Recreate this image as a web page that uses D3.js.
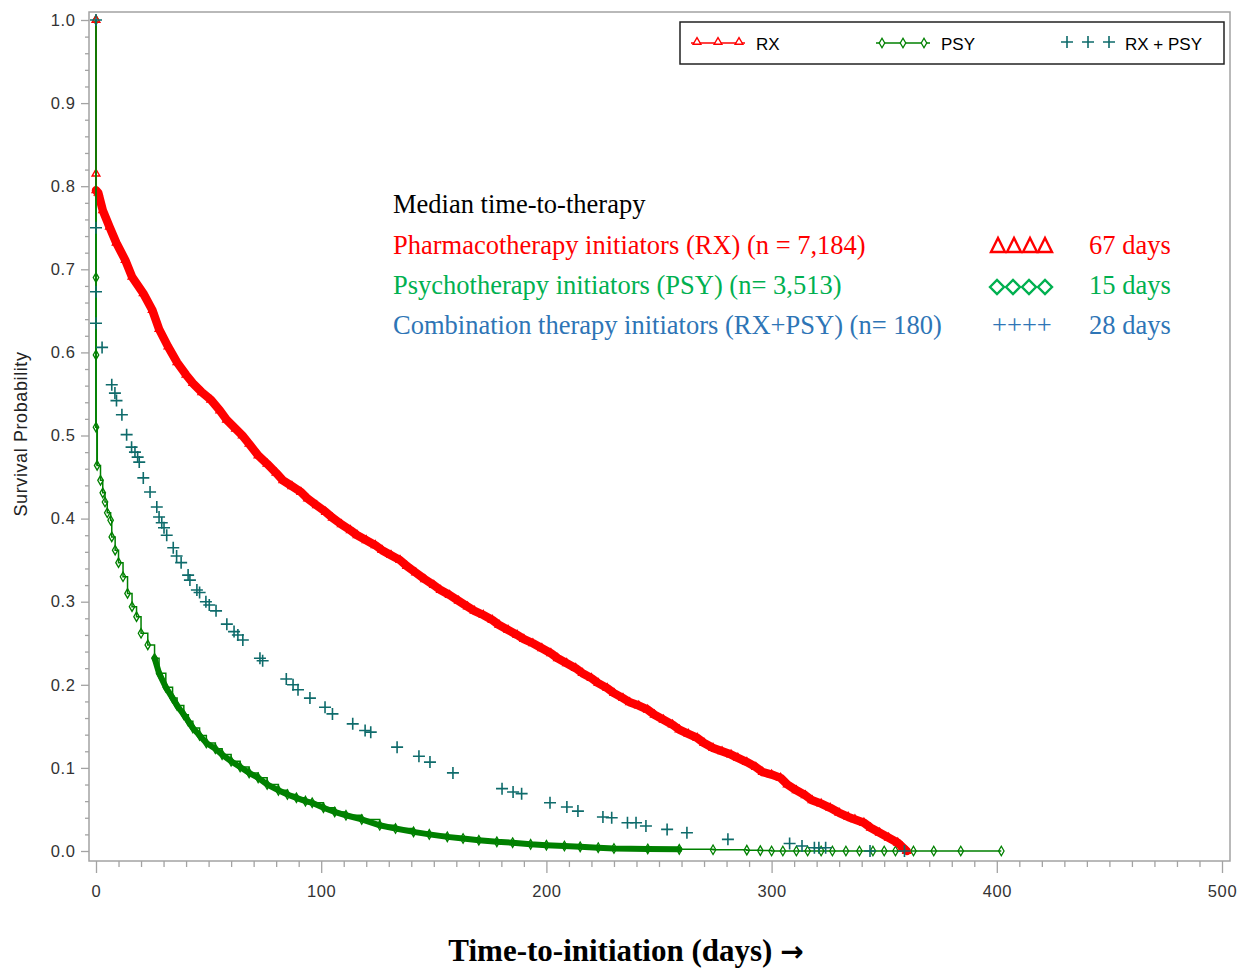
<!DOCTYPE html>
<html><head><meta charset="utf-8">
<script src="https://cdn.jsdelivr.net/npm/d3@7"></script>
<style>body{margin:0;background:#fff}</style>
</head><body>
<svg id="chart" width="1248" height="971"></svg>
<script>
// ---- data: [time (days), survival probability]
const rxSeries = [[0,1.0],[0,0.815],[0,0.795],[1,0.792],[3,0.771],[6,0.751],[9,0.732],[13,0.711],[16,0.691],[21,0.671],[25,0.651],[28,0.628],[32,0.607],[36,0.588],[40,0.573],[43,0.563],[47,0.552],[51,0.543],[55,0.530],[58,0.519],[62,0.508],[65,0.500],[68,0.490],[72,0.476],[76,0.466],[80,0.455],[83,0.446],[87,0.439],[91,0.432],[94,0.424],[98,0.416],[102,0.408],[105,0.401],[109,0.393],[113,0.386],[116,0.380],[120,0.374],[124,0.368],[127,0.362],[131,0.356],[135,0.350],[138,0.343],[142,0.335],[146,0.327],[150,0.320],[153,0.314],[157,0.308],[161,0.301],[165,0.294],[168,0.289],[172,0.284],[176,0.278],[179,0.272],[183,0.266],[187,0.260],[190,0.255],[194,0.250],[198,0.244],[202,0.238],[205,0.232],[209,0.226],[213,0.220],[216,0.214],[220,0.208],[223,0.202],[227,0.196],[230,0.190],[234,0.184],[237,0.179],[241,0.175],[245,0.170],[248,0.164],[252,0.158],[256,0.152],[259,0.146],[263,0.141],[267,0.136],[270,0.130],[274,0.124],[278,0.120],[282,0.116],[285,0.112],[289,0.107],[293,0.101],[296,0.095],[300,0.092],[304,0.088],[307,0.080],[311,0.073],[315,0.067],[318,0.061],[322,0.057],[326,0.052],[330,0.046],[334,0.041],[337,0.038],[341,0.034],[344,0.028],[348,0.022],[352,0.016],[356,0.010],[358,0.005],[360,0.0]];

const psySeries = [[0,1.0],[0,0.69],[0,0.597],[0,0.51],[0.5,0.464],[2,0.446],[3,0.431],[4,0.420],[5,0.407],[6.5,0.398],[7,0.378],[8.5,0.362],[10,0.347],[12,0.330],[14,0.310],[16,0.294],[18,0.282],[20,0.262],[23,0.248],[26,0.232],[28,0.214],[31,0.197],[34,0.184],[36,0.175],[39,0.164],[41,0.156],[43,0.148],[46,0.139],[49,0.130],[53,0.123],[56,0.116],[60,0.108],[64,0.101],[68,0.094],[72,0.088],[76,0.080],[81,0.073],[85,0.068],[89,0.064],[93,0.060],[96,0.058],[101,0.052],[106,0.047],[111,0.043],[118,0.038],[126,0.031],[133,0.027],[141,0.023],[148,0.020],[156,0.017],[163,0.015],[170,0.013],[178,0.011],[185,0.010],[193,0.008],[200,0.007],[208,0.006],[215,0.005],[223,0.004],[230,0.003],[245,0.0025],[259,0.002],[274,0.0015],[289,0.001],[295,0.0005],[300,0.0],[305,0.0],[311,0.0],[316,0.0],[322,0.0],[327,0.0],[333,0.0],[339,0.0],[345,0.0],[350,0.0],[355,0.0],[363,0.0],[372,0.0],[384,0.0],[402,0.0]];

const comboSeries = [[0,1.0],[0,0.75],[0,0.673],[0,0.635],[2.7,0.606],[7,0.561],[8.4,0.551],[9.1,0.542],[11.5,0.525],[13.6,0.501],[15.8,0.486],[17.3,0.480],[18.5,0.474],[19.2,0.468],[21,0.449],[24,0.432],[27,0.414],[28,0.402],[29.2,0.395],[30.2,0.389],[31.4,0.380],[34.3,0.365],[35.8,0.355],[37.8,0.347],[40.9,0.332],[41.7,0.326],[44.8,0.314],[46,0.311],[48.8,0.300],[50.3,0.296],[53.3,0.289],[58.1,0.273],[61.3,0.264],[63,0.260],[65.2,0.254],[72.8,0.232],[74,0.229],[84.5,0.207],[87.5,0.200],[89.7,0.194],[95,0.184],[101.7,0.173],[105,0.165],[114,0.153],[119.5,0.145],[122,0.143],[133.7,0.125],[143.4,0.114],[148.3,0.107],[158.5,0.094],[180.3,0.075],[185.2,0.071],[189,0.069],[201.6,0.058],[209.1,0.053],[214,0.048],[225.1,0.041],[229,0.040],[236,0.034],[239.8,0.034],[244.2,0.030],[253.6,0.026],[262.4,0.022],[280.6,0.014],[308,0.009],[313.5,0.006],[319,0.004],[321,0.004],[324,0.004],[343.7,0.0],[359,0.0]];

const xTicks = [0,100,200,300,400,500];
const yTicks = [0.0,0.1,0.2,0.3,0.4,0.5,0.6,0.7,0.8,0.9,1.0];
const legendLabels = ["RX","PSY","RX + PSY"];
const noteTitle = "Median time-to-therapy";
const noteLines = ["Pharmacotherapy initiators (RX) (n = 7,184)","Psychotherapy initiators (PSY) (n= 3,513)","Combination therapy initiators (RX+PSY) (n= 180)"];
const noteMedians = ["67 days","15 days","28 days"];

// ---- drawing
const svg = d3.select("#chart");
const frame = {l:89, t:12, r:1230, b:861};
const x = d3.scaleLinear().domain([0,500]).range([96,1222]);
const y = d3.scaleLinear().domain([0,1]).range([851,20]);

const RED="#ff0000", GREEN="#008000", TEAL="#0e6b6b", GREY="#a3a3a3";

// frame
svg.append("rect").attr("x",frame.l).attr("y",frame.t).attr("width",frame.r-frame.l).attr("height",frame.b-frame.t)
  .attr("fill","none").attr("stroke",GREY).attr("stroke-width",1.5);

// x axis
const xAxis = d3.axisBottom(x).tickValues(xTicks).tickSize(12).tickFormat(d3.format("d"));
const gx = svg.append("g").attr("transform",`translate(0,${frame.b})`).call(xAxis);
const xMinor = d3.range(0,501,10).filter(v=>v%100!==0);
svg.append("g").attr("transform",`translate(0,${frame.b})`)
  .call(d3.axisBottom(x).tickValues(xMinor).tickSize(6).tickFormat(""));
// y axis
const gy = svg.append("g").attr("transform",`translate(${frame.l},0)`)
  .call(d3.axisLeft(y).tickValues(yTicks).tickSize(8).tickFormat(d3.format(".1f")));
const yMinor = d3.range(0,51).map(i=>i/50).filter((v,i)=>i%5!==0);
svg.append("g").attr("transform",`translate(${frame.l},0)`)
  .call(d3.axisLeft(y).tickValues(yMinor).tickSize(4).tickFormat(""));
svg.selectAll(".domain").remove();
svg.selectAll(".tick line").attr("stroke",GREY).attr("stroke-width",1.3);
svg.selectAll(".tick text").attr("font-family","Liberation Sans, Arial, sans-serif").attr("font-size",16.5).attr("fill","#333").attr("letter-spacing",0.6);
gx.selectAll(".tick text").attr("dy","1.3em");
gy.selectAll(".tick text").attr("dx","-0.15em");

// axis titles
svg.append("text").attr("transform","translate(27,434) rotate(-90)").attr("text-anchor","middle")
  .attr("font-family","Liberation Sans, Arial, sans-serif").attr("font-size",18).attr("letter-spacing",0.6).attr("fill","#222")
  .text("Survival Probability");
const xt = svg.append("text").attr("x",626).attr("y",961).attr("text-anchor","middle")
  .attr("font-family","Liberation Serif, Times New Roman, serif").attr("font-size",31).attr("font-weight","bold");
xt.append("tspan").text("Time-to-initiation (days) ");
xt.append("tspan").attr("font-family","DejaVu Sans, sans-serif").attr("font-size",28).text("\u2192");

const line = d3.line().x(d=>x(d[0])).y(d=>y(d[1]));
const stepLine = d3.line().x(d=>x(d[0])).y(d=>y(d[1])).curve(d3.curveStepAfter);
const triSym = d3.symbol().type(d3.symbolTriangle).size(26);
const diaSym = d3.symbol().type(d3.symbolDiamond).size(26);
const plusPath = "M-6,0H6M0,-6V6";

// PSY: line + dense band + diamonds
svg.append("path").datum(psySeries).attr("d",stepLine).attr("fill","none").attr("stroke",GREEN).attr("stroke-width",1.5);
svg.append("path").datum(psySeries.filter(d=>d[0]>=24 && d[0]<=262)).attr("d",line)
  .attr("fill","none").attr("stroke",GREEN).attr("stroke-width",6).attr("stroke-linecap","round");
svg.append("g").selectAll("path").data(psySeries).join("path")
  .attr("transform",d=>`translate(${x(d[0])},${y(d[1])})`).attr("d",diaSym)
  .attr("fill","none").attr("stroke",GREEN).attr("stroke-width",1.3);

// RX: dense band + triangles
svg.append("path").datum(rxSeries.slice(0,3)).attr("d",line).attr("fill","none").attr("stroke",RED).attr("stroke-width",1.5);
svg.append("path").datum(rxSeries.slice(2)).attr("d",line).attr("fill","none").attr("stroke",RED)
  .attr("stroke-width",8.5).attr("stroke-linejoin","round").attr("stroke-linecap","round");
svg.append("g").selectAll("path").data(rxSeries).join("path")
  .attr("transform",d=>`translate(${x(d[0])},${y(d[1])})`).attr("d",triSym)
  .attr("fill","none").attr("stroke",RED).attr("stroke-width",1.4);
// PSY vertical line at t=0 on top (as in reference)
svg.append("path").datum(psySeries.slice(0,5)).attr("d",stepLine).attr("fill","none").attr("stroke",GREEN).attr("stroke-width",1.8);

// RX+PSY: plus markers only
svg.append("g").selectAll("path").data(comboSeries).join("path")
  .attr("transform",d=>`translate(${x(d[0])},${y(d[1])})`).attr("d",plusPath)
  .attr("fill","none").attr("stroke",TEAL).attr("stroke-width",1.6);

// legend
const lg = svg.append("g");
lg.append("rect").attr("x",680).attr("y",22).attr("width",544).attr("height",42)
  .attr("fill","white").attr("stroke","#222").attr("stroke-width",1.5);
const legFont = "Liberation Sans, Arial, sans-serif";
// RX
lg.append("line").attr("x1",691).attr("x2",745).attr("y1",43).attr("y2",43).attr("stroke",RED).attr("stroke-width",1.5);
[697,718,739].forEach(cx=>lg.append("path").attr("transform",`translate(${cx},42)`).attr("d",triSym).attr("fill","white").attr("stroke",RED).attr("stroke-width",1.4));
lg.append("text").attr("x",756).attr("y",50).attr("font-family",legFont).attr("font-size",17).text(legendLabels[0]);
// PSY
lg.append("line").attr("x1",876).attr("x2",930).attr("y1",43).attr("y2",43).attr("stroke",GREEN).attr("stroke-width",1.5);
[882,903,924].forEach(cx=>lg.append("path").attr("transform",`translate(${cx},43)`).attr("d",diaSym).attr("fill","white").attr("stroke",GREEN).attr("stroke-width",1.3));
lg.append("text").attr("x",941).attr("y",50).attr("font-family",legFont).attr("font-size",17).text(legendLabels[1]);
// RX+PSY
[1067,1088,1109].forEach(cx=>lg.append("path").attr("transform",`translate(${cx},42)`).attr("d",plusPath).attr("fill","none").attr("stroke",TEAL).attr("stroke-width",1.6));
lg.append("text").attr("x",1125).attr("y",50).attr("font-family",legFont).attr("font-size",17).text(legendLabels[2]);

// annotation block
const serif = "Liberation Serif, Times New Roman, serif";
const noteSize = 26.5;
const noteColors = ["#ff0000","#00b050","#2e75b6"];
const noteY = [254,294,334];
svg.append("text").attr("x",393).attr("y",213).attr("font-family",serif).attr("font-size",noteSize).attr("fill","#000").text(noteTitle);
noteLines.forEach((t,i)=>{
  svg.append("text").attr("x",393).attr("y",noteY[i]).attr("font-family",serif).attr("font-size",noteSize).attr("fill",noteColors[i]).text(t);
  svg.append("text").attr("x",1089).attr("y",noteY[i]).attr("font-family",serif).attr("font-size",noteSize).attr("fill",noteColors[i]).text(noteMedians[i]);
});
// symbols next to medians
[998,1014,1030,1045].forEach(cx=>svg.append("path").attr("d",`M${cx-7},252L${cx},238L${cx+7},252Z`)
  .attr("fill","none").attr("stroke",noteColors[0]).attr("stroke-width",2.4));
[997,1013,1029,1045].forEach(cx=>svg.append("path").attr("d",`M${cx-7},287L${cx},280L${cx+7},287L${cx},294Z`)
  .attr("fill","none").attr("stroke",noteColors[1]).attr("stroke-width",2.4));
svg.append("text").attr("x",992).attr("y",334).attr("font-family",serif).attr("font-size",noteSize).attr("fill",noteColors[2]).text("++++");
</script>
</body></html>
